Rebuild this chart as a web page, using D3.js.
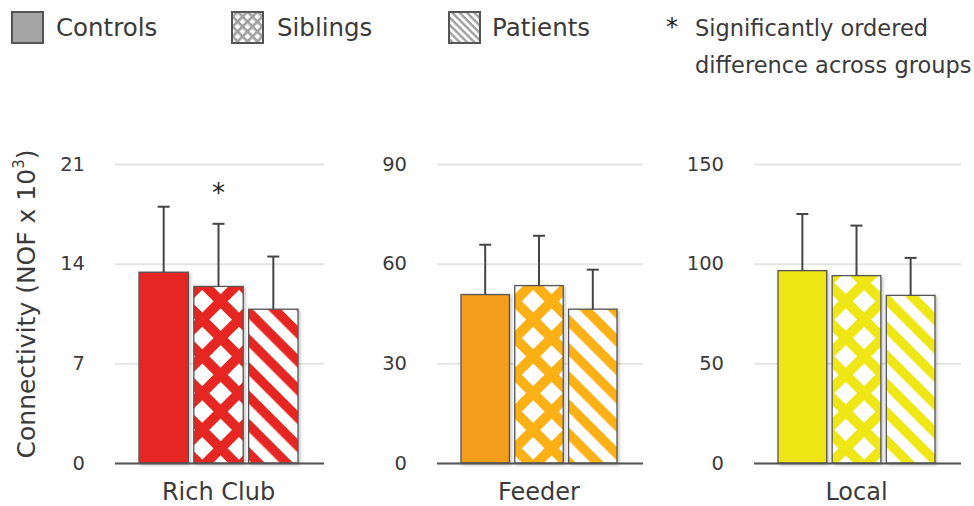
<!DOCTYPE html>
<html>
<head>
<meta charset="utf-8">
<script src="https://cdn.jsdelivr.net/npm/d3@7"></script>
<style>
  html, body { margin: 0; padding: 0; background: #fff; }
  svg { display: block; font-family: "DejaVu Sans", sans-serif; }
</style>
</head>
<body>
<svg id="chart" width="974" height="506"></svg>
<script>
// ---------- data ----------
const categories = ["Rich Club", "Feeder", "Local"];
const groups = ["Controls", "Siblings", "Patients"];
const richClubMeans = [13.4, 12.4, 10.8];
const richClubSD    = [4.6, 4.4, 3.7];
const feederMeans   = [50.7, 53.4, 46.3];
const feederSD      = [15.0, 15.0, 11.9];
const localMeans    = [96.5, 94.0, 84.1];
const localSD       = [28.4, 25.1, 18.8];
const yMaxes = [21, 90, 150];
const richClubTicks = [0, 7, 14, 21];
const feederTicks   = [0, 30, 60, 90];
const localTicks    = [0, 50, 100, 150];
const significant = [[false, true, false], [false, false, false], [false, false, false]];
const yTitle = "Connectivity (NOF x 10";
const legendNote = ["Significantly ordered", "difference across groups"];

const meansAll = [richClubMeans, feederMeans, localMeans];
const sdAll = [richClubSD, feederSD, localSD];
const ticksAll = [richClubTicks, feederTicks, localTicks];

// ---------- layout ----------
const svg = d3.select("#chart");
const textColor = "#3a3a3a";
const solidColors   = ["#e62522", "#f49c1f", "#efe612"];
const patternColors = ["#e62522", "#fbb018", "#efe612"];
const barRanges = [[139, 298], [461, 617], [778, 935]];
const yBottom = 463, yTopPx = 164;
const gridExtLeft = 24, gridExtRight = 26;

const defs = svg.append("defs");

function crossPattern(id, color, size, band) {
  const p = defs.append("pattern").attr("id", id)
    .attr("patternUnits", "userSpaceOnUse")
    .attr("width", size).attr("height", size)
    .attr("patternTransform", "rotate(45)");
  p.append("rect").attr("width", size).attr("height", size).attr("fill", "#fff");
  p.append("rect").attr("width", size).attr("height", band).attr("fill", color);
  p.append("rect").attr("width", band).attr("height", size).attr("fill", color);
}
function stripePattern(id, color, size, band) {
  const p = defs.append("pattern").attr("id", id)
    .attr("patternUnits", "userSpaceOnUse")
    .attr("width", size).attr("height", size)
    .attr("patternTransform", "rotate(45)");
  p.append("rect").attr("width", size).attr("height", size).attr("fill", "#fff");
  p.append("rect").attr("width", size).attr("height", band).attr("fill", color);
}
patternColors.forEach((c, i) => {
  crossPattern("cross" + i, c, 26, 10);
  stripePattern("stripe" + i, c, 20, 9.5);
});
crossPattern("crossLegend", "#a0a0a0", 7, 2.6);
stripePattern("stripeLegend", "#a0a0a0", 5.2, 2.4);

const shadow = defs.append("filter").attr("id", "shadow")
  .attr("x", "-10%").attr("y", "-10%").attr("width", "130%").attr("height", "130%");
shadow.append("feDropShadow").attr("dx", 1.5).attr("dy", 1.5).attr("stdDeviation", 1.5)
  .attr("flood-color", "#000").attr("flood-opacity", 0.25);

// ---------- legend ----------
const legendItems = [
  { label: groups[0], fill: "#a6a6a6", sx: 12, tx: 56 },
  { label: groups[1], fill: "url(#crossLegend)", sx: 232, tx: 277 },
  { label: groups[2], fill: "url(#stripeLegend)", sx: 449, tx: 492 }
];
const legend = svg.append("g");
legendItems.forEach(it => {
  legend.append("rect").attr("x", it.sx).attr("y", 12).attr("width", 31).attr("height", 31)
    .attr("fill", it.fill).attr("stroke", "#555").attr("stroke-width", 2);
  legend.append("text").attr("x", it.tx).attr("y", 36).text(it.label)
    .attr("font-size", 24.5).attr("fill", textColor);
});
legend.append("text").attr("x", 666).attr("y", 35).text("*")
  .attr("font-size", 24).attr("fill", "#222");
legendNote.forEach((t, i) => {
  legend.append("text").attr("x", 695).attr("y", 36 + i * 37).text(t)
    .attr("font-size", 22.5).attr("fill", textColor);
});

// ---------- y title ----------
const yt = svg.append("text")
  .attr("transform", "translate(35," + 304 + ") rotate(-90)")
  .attr("text-anchor", "middle").attr("font-size", 25).attr("fill", textColor);
yt.append("tspan").text(yTitle);
yt.append("tspan").attr("font-size", 15).attr("dy", -11).text("3");
yt.append("tspan").attr("dy", 11).text(")");

// ---------- panels ----------
categories.forEach((cat, ci) => {
  const [x0, x1] = barRanges[ci];
  const x = d3.scaleBand().domain(groups).range([x0, x1]).paddingInner(0.1).paddingOuter(0);
  const y = d3.scaleLinear().domain([0, yMaxes[ci]]).range([yBottom, yTopPx]);
  const g = svg.append("g");
  const gx0 = x0 - gridExtLeft, gx1 = x1 + gridExtRight;

  const axis = g.append("g").attr("transform", "translate(" + gx0 + ",0)")
    .call(d3.axisLeft(y).tickValues(ticksAll[ci]).tickSize(-(gx1 - gx0)).tickPadding(30).tickFormat(d3.format("d")));
  axis.select(".domain").remove();
  axis.selectAll(".tick line").attr("stroke", "#e4e4e4").attr("stroke-width", 2);
  axis.selectAll(".tick text").attr("fill", textColor).attr("font-size", 19.5)
    .attr("font-family", "DejaVu Sans, sans-serif");

  const data = groups.map((gname, gi) => ({ g: gname, gi, m: meansAll[ci][gi], sd: sdAll[ci][gi] }));
  const fills = [solidColors[ci], "url(#cross" + ci + ")", "url(#stripe" + ci + ")"];

  g.selectAll("rect.bar").data(data).join("rect").attr("class", "bar")
    .attr("x", d => x(d.g)).attr("width", x.bandwidth())
    .attr("y", d => y(d.m)).attr("height", d => y(0) - y(d.m))
    .attr("fill", d => fills[d.gi])
    .attr("stroke", "#555").attr("stroke-width", 1.3)
    .attr("filter", "url(#shadow)");

  // error bars
  const eb = g.selectAll("g.err").data(data).join("g").attr("class", "err");
  eb.append("line")
    .attr("x1", d => x(d.g) + x.bandwidth() / 2).attr("x2", d => x(d.g) + x.bandwidth() / 2)
    .attr("y1", d => y(d.m)).attr("y2", d => y(d.m + d.sd))
    .attr("stroke", "#444").attr("stroke-width", 2);
  eb.append("line")
    .attr("x1", d => x(d.g) + x.bandwidth() / 2 - 6).attr("x2", d => x(d.g) + x.bandwidth() / 2 + 6)
    .attr("y1", d => y(d.m + d.sd)).attr("y2", d => y(d.m + d.sd))
    .attr("stroke", "#444").attr("stroke-width", 2);

  // significance marker
  data.filter(d => significant[ci][d.gi]).forEach(d => {
    g.append("text").attr("x", x(d.g) + x.bandwidth() / 2).attr("y", y(d.m + d.sd) - 22)
      .attr("text-anchor", "middle").attr("font-size", 26).attr("fill", "#222").text("*");
  });

  // baseline
  g.append("line").attr("x1", gx0).attr("x2", gx1).attr("y1", y(0) + 0.5).attr("y2", y(0) + 0.5)
    .attr("stroke", "#555").attr("stroke-width", 2);

  // category label
  g.append("text").attr("x", (x0 + x1) / 2).attr("y", 500).attr("text-anchor", "middle")
    .attr("font-size", 24).attr("fill", textColor).text(cat);
});
</script>
</body>
</html>
